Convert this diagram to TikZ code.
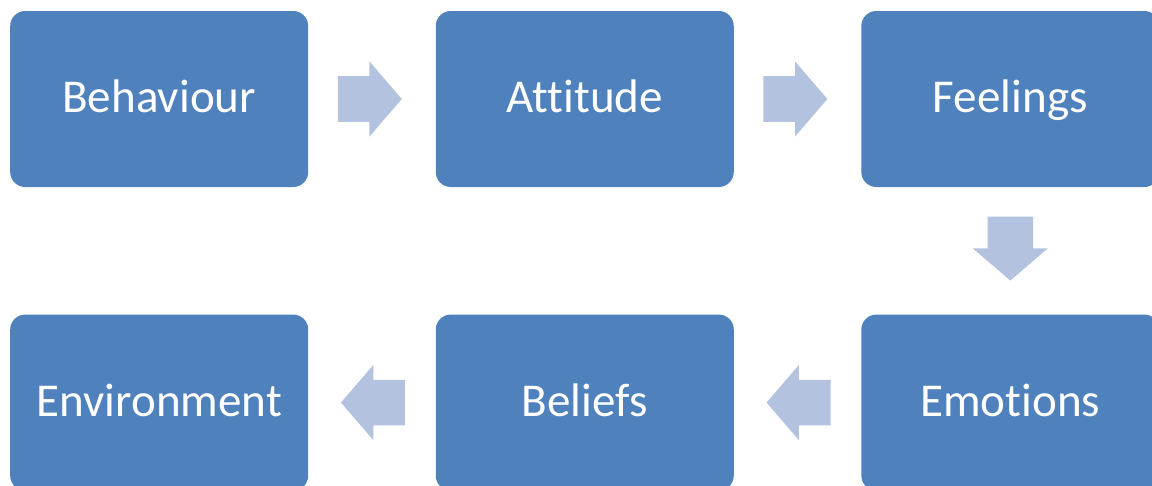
\documentclass[tikz,border=0pt]{standalone}
\usepackage{fontspec}
\setmainfont[RawFeature={-liga}]{Carlito}
\usetikzlibrary{positioning}
\usetikzlibrary{shapes.arrows}
\usetikzlibrary{calc}
\definecolor{boxblue}{HTML}{4F81BD}
\definecolor{arrowblue}{HTML}{B3C2DE}

\begin{document}
\begin{tikzpicture}[node distance=3.175cm,
  box/.style={fill=boxblue,rounded corners=0.375cm,minimum width=7.45cm,minimum height=4.4cm,
    text=white,font=\fontsize{33.5}{40}\selectfont,text height=0.8cm,text depth=0.115cm},
  blk/.style={single arrow,fill=arrowblue,inner xsep=0pt,inner ysep=0.5625cm,minimum height=1.6cm,
    single arrow head extend=0.37cm,single arrow tip angle=98.6}]
  \useasboundingbox (0,0) rectangle (28.8,-12.15);
  \node[box] (beh) at (3.98,-2.475) {Behaviour};
  \node[box,right=of beh] (att) {Attitude};
  \node[box,right=of att] (fee) {Feelings};
  \node[box,below=of fee] (emo) {Emotions};
  \node[box,left=of emo] (bel) {Beliefs};
  \node[box,left=of bel] (env) {Environment};

  % block arrows between the boxes
  \node[blk,xshift=-0.3cm] (a1) at ($(beh.east)!0.5!(att.west)$) {};
  \node[blk,xshift=-0.3cm] (a2) at ($(att.east)!0.5!(fee.west)$) {};
  \node[blk,shape border rotate=270,inner xsep=0.5625cm,inner ysep=0pt,yshift=0.3cm] (a3)
    at ($(fee.south)!0.5!(emo.north)$) {};
  \node[blk,shape border rotate=180,xshift=0.27cm] (a4) at ($(emo.west)!0.5!(bel.east)$) {};
  \node[blk,shape border rotate=180,xshift=0.27cm] (a5) at ($(bel.west)!0.5!(env.east)$) {};
\end{tikzpicture}
\end{document}
